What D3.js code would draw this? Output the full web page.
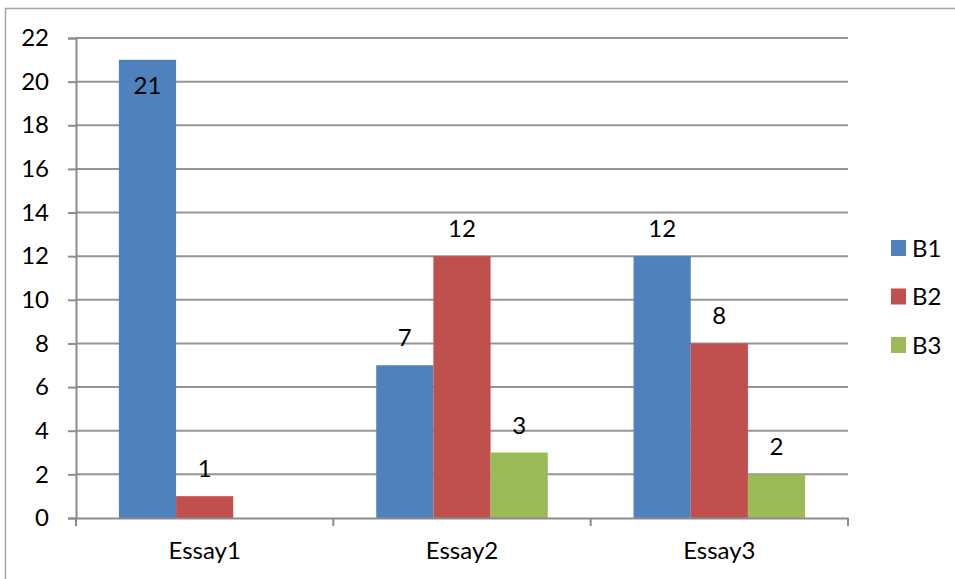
<!DOCTYPE html>
<html>
<head>
<meta charset="utf-8">
<script src="https://cdn.jsdelivr.net/npm/d3@7"></script>
<style>
  body { margin: 0; background: #fff; }
  svg { display: block; font-family: Lato, "Open Sans", sans-serif; }
</style>
</head>
<body>
<svg id="chart" width="955" height="579"></svg>
<script>
// chart data
var essays = ["Essay1", "Essay2", "Essay3"];
var seriesNames = ["B1", "B2", "B3"];
var b1 = [21, 7, 12];
var b2 = [1, 12, 8];
var b3 = [null, 3, 2];
var yTicks = [0, 2, 4, 6, 8, 10, 12, 14, 16, 18, 20, 22];

var colors = ["#4f81bd", "#c0504d", "#9bbb59"];
var values = [b1, b2, b3];
var fontSize = 24;

var svg = d3.select("#chart"),
    margin = {top: 38, left: 76, right: 107, bottom: 61},
    width = 955 - margin.left - margin.right,
    height = 579 - margin.top - margin.bottom;

// outer chart border (right/bottom edges fall outside the picture)
svg.append("rect")
    .attr("x", 5.5).attr("y", 8.5)
    .attr("width", 1000).attr("height", 1000)
    .attr("fill", "none")
    .attr("stroke", "#a6a6a6")
    .attr("stroke-width", 1.5);

var g = svg.append("g").attr("transform", "translate(" + margin.left + "," + margin.top + ")");

var y = d3.scaleLinear().domain([0, 22]).range([height, 0]);

var x0 = d3.scaleBand().domain(essays).range([0, width]);

var x1 = d3.scaleBand().domain(seriesNames)
    .range([0, x0.bandwidth()])
    .paddingInner(0)
    .paddingOuter(0.75);

// gridlines
g.append("g")
  .selectAll("line")
  .data(yTicks.filter(function(d) { return d > 0; }))
  .enter().append("line")
    .attr("x1", 0).attr("x2", width)
    .attr("y1", function(d) { return y(d); })
    .attr("y2", function(d) { return y(d); })
    .attr("stroke", "#959595")
    .attr("stroke-width", 2);

// bars
var rows = [];
seriesNames.forEach(function(s, si) {
  essays.forEach(function(e, ei) {
    var v = values[si][ei];
    if (v != null) rows.push({essay: e, series: s, value: v, color: colors[si]});
  });
});

g.append("g")
  .selectAll("rect")
  .data(rows)
  .enter().append("rect")
    .attr("x", function(d) { return x0(d.essay) + x1(d.series); })
    .attr("y", function(d) { return y(d.value); })
    .attr("width", x1.bandwidth())
    .attr("height", function(d) { return height - y(d.value); })
    .attr("fill", function(d) { return d.color; });

// data labels: outside end, or inside when no room at the top
g.append("g")
  .selectAll("text")
  .data(rows)
  .enter().append("text")
    .attr("x", function(d) { return x0(d.essay) + x1(d.series) + x1.bandwidth() / 2; })
    .attr("y", function(d) {
      var top = y(d.value);
      return top - 35 < 0 ? top + 34 : top - 19;
    })
    .attr("text-anchor", "middle")
    .attr("font-size", fontSize)
    .attr("fill", "#000")
    .text(function(d) { return d.value; });

// y axis
var yAxis = g.append("g")
    .call(d3.axisLeft(y).tickValues(yTicks).tickSize(8).tickPadding(19));
yAxis.select(".domain").attr("stroke", "#8c8c8c").attr("stroke-width", 2);
yAxis.selectAll(".tick line").attr("stroke", "#8c8c8c").attr("stroke-width", 2);
yAxis.selectAll(".tick text").attr("font-size", fontSize).attr("font-family", "Lato, sans-serif").attr("fill", "#000");

// x axis
var xAxis = g.append("g")
    .attr("transform", "translate(0," + height + ")")
    .call(d3.axisBottom(x0).tickSize(0).tickPadding(24));
xAxis.select(".domain").attr("stroke", "#8c8c8c").attr("stroke-width", 2);
xAxis.selectAll(".tick text").attr("font-size", fontSize).attr("font-family", "Lato, sans-serif").attr("fill", "#000");

// category boundary ticks
g.append("g")
  .selectAll("line")
  .data(essays.concat(["end"]))
  .enter().append("line")
    .attr("x1", function(d, i) { return i < essays.length ? x0(d) : width; })
    .attr("x2", function(d, i) { return i < essays.length ? x0(d) : width; })
    .attr("y1", height).attr("y2", height + 8)
    .attr("stroke", "#8c8c8c")
    .attr("stroke-width", 2);

// legend
var legend = svg.append("g")
  .selectAll("g")
  .data(seriesNames)
  .enter().append("g")
    .attr("transform", function(d, i) { return "translate(891," + (240 + i * 48.5) + ")"; });

legend.append("rect")
    .attr("width", 15).attr("height", 16)
    .attr("fill", function(d, i) { return colors[i]; });

legend.append("text")
    .attr("x", 21).attr("y", 8)
    .attr("dy", "0.36em")
    .attr("font-size", fontSize)
    .attr("fill", "#000")
    .text(function(d) { return d; });
</script>
</body>
</html>
